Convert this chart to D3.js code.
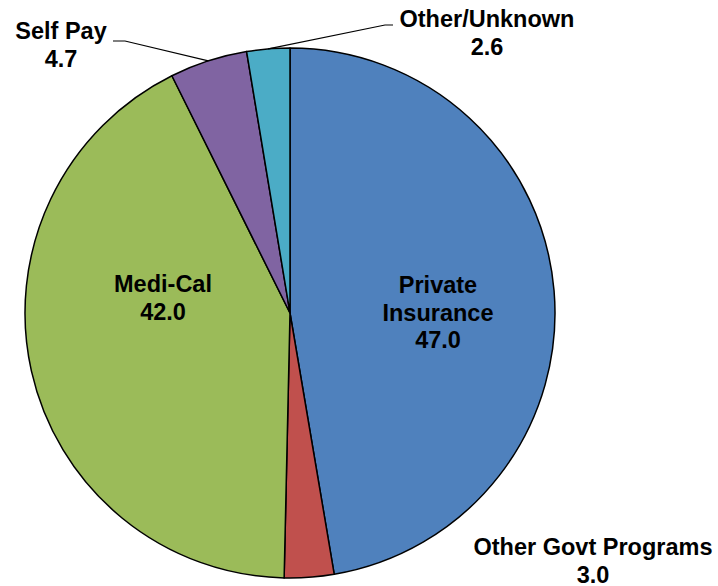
<!DOCTYPE html>
<html lang="en">
<head>
    <meta charset="UTF-8">
    <title>Payer pie</title>
    <script src="https://cdn.jsdelivr.net/npm/d3@7"></script>
    <style>
        body { margin: 0; background: #fff; }
        text { font-family: "Liberation Sans", Arial, sans-serif; font-weight: bold; font-size: 23.5px; fill: #000; }
    </style>
</head>
<body>
<svg width="718" height="586"></svg>

<script>
    // data, clockwise from 12 o'clock
    var categories = ["Private Insurance", "Other Govt Programs", "Medi-Cal", "Self Pay", "Other/Unknown"];
    var values = [47.0, 3.0, 42.0, 4.7, 2.6];
    var valueLabels = ["47.0", "3.0", "42.0", "4.7", "2.6"];
    var colors = ["#4F81BD", "#C0504D", "#9BBB59", "#8064A2", "#4BACC6"];

    var cx = 290, cy = 313, radius = 265;
    var lineH = 27.5;

    // label placement relative to pie centre (first baseline), plus leader elbows
    var layout = {
        "Private Insurance": {x: 148, y: -20, lines: ["Private", "Insurance"]},
        "Other Govt Programs": {x: 303, y: 242, lines: ["Other Govt Programs"]},
        "Medi-Cal": {x: -127, y: -21, lines: ["Medi-Cal"]},
        "Self Pay": {x: -229, y: -274, lines: ["Self Pay"], elbow: [-165, -272], end: [-177, -272]},
        "Other/Unknown": {x: 197, y: -286, lines: ["Other/Unknown"], elbow: [95, -288], end: [103, -288]}
    };

    var pie = d3.pie().sort(null).value(function (d, i) { return values[i]; });
    var arcs = pie(categories);
    var arc = d3.arc().innerRadius(0).outerRadius(radius);
    var edgeArc = d3.arc().innerRadius(radius).outerRadius(radius);

    var svg = d3.select('svg');
    var g = svg.append('g').attr('transform', 'translate(' + cx + ',' + cy + ')');

    g.selectAll('path.slice').data(arcs).enter().append('path')
        .attr('class', 'slice')
        .attr('d', arc)
        .attr('fill', function (d, i) { return colors[i]; })
        .attr('stroke', '#000')
        .attr('stroke-width', 1.5)
        .attr('stroke-linejoin', 'round');

    // leader lines
    arcs.forEach(function (d, i) {
        var l = layout[categories[i]];
        if (!l.elbow) return;
        var p = edgeArc.centroid(d);
        g.append('polyline')
            .attr('points', [p, l.elbow, l.end].map(function (q) { return q.join(','); }).join(' '))
            .attr('fill', 'none')
            .attr('stroke', '#000')
            .attr('stroke-width', 1.2);
    });

    // labels
    arcs.forEach(function (d, i) {
        var l = layout[categories[i]];
        var t = g.append('text').attr('text-anchor', 'middle');
        var rows = l.lines.concat([valueLabels[i]]);
        rows.forEach(function (s, k) {
            t.append('tspan').attr('x', l.x).attr('y', l.y + k * lineH).text(s);
        });
    });
</script>
</body>
</html>
